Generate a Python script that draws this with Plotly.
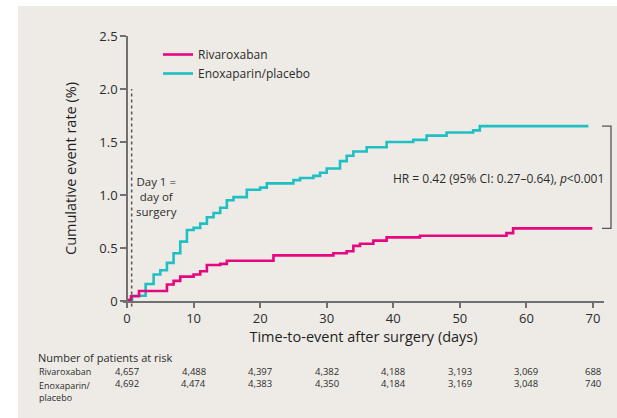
import plotly.graph_objects as go

# ---------------- data ----------------
riva_name = "Rivaroxaban"
enox_name = "Enoxaparin/placebo"

riva_days = [0, 0.6, 1.8, 6, 7, 8, 10, 11, 12, 14, 15, 22, 31, 33, 34, 35, 37, 39, 44, 57, 58, 69.9]
riva_vals = [0.01, 0.045, 0.095, 0.155, 0.19, 0.23, 0.25, 0.28, 0.34, 0.35, 0.38, 0.43, 0.45, 0.47,
             0.52, 0.54, 0.57, 0.60, 0.615, 0.64, 0.685, 0.685]

enox_days = [0, 0.75, 2.8, 4, 5, 6, 7, 8, 9, 10, 11, 12, 13, 14, 15, 16, 18, 20, 21, 25, 26, 28, 29,
             30, 32, 33, 34, 36, 39, 43, 45, 48, 52, 53, 69.3]
enox_vals = [0.01, 0.05, 0.16, 0.25, 0.29, 0.36, 0.45, 0.56, 0.67, 0.69, 0.73, 0.79, 0.83, 0.88, 0.95,
             0.98, 1.05, 1.07, 1.11, 1.14, 1.16, 1.18, 1.21, 1.25, 1.32, 1.37, 1.41, 1.45, 1.50, 1.52,
             1.56, 1.59, 1.61, 1.65, 1.65]

x_ticks = [0, 10, 20, 30, 40, 50, 60, 70]
y_ticks = [0, 0.5, 1.0, 1.5, 2.0, 2.5]
y_ticktext = ["0", "0.5", "1.0", "1.5", "2.0", "2.5"]

surgery_day = 0.7
surgery_line_top = 2.0
surgery_text = "Day 1 =<br>day of<br>surgery"

hr_text = "HR = 0.42 (95% CI: 0.27–0.64), <i>p</i><0.001"

risk_title = "Number of patients at risk"
risk_row_labels = ["Rivaroxaban", "Enoxaparin/<br>placebo"]
risk_days = [0, 10, 20, 30, 40, 50, 60, 70]
riva_risk = ["4,657", "4,488", "4,397", "4,382", "4,188", "3,193", "3,069", "688"]
enox_risk = ["4,692", "4,474", "4,383", "4,350", "4,184", "3,169", "3,048", "740"]

# ---------------- styling ----------------
PINK = "#e6067f"
TEAL = "#1fbfc3"
AXIS = "#707070"
TXT = "#2b2b2b"
FONT = "Open Sans"

W, H = 617, 418
ML, MR, MT, MB = 123, 13, 36, 117
PW, PH = W - ML - MR, H - MT - MB
X_RANGE = [-0.6, 71.65]
Y_RANGE = [0, 2.5]


def px_to_paper_x(px):
    return (px - ML) / PW


def px_to_paper_y(py):
    return (H - MB - py) / PH


fig = go.Figure()
fig.add_trace(go.Scatter(x=enox_days, y=enox_vals, mode="lines", name=enox_name,
                         line=dict(color=TEAL, width=2.6, shape="hv"), legendrank=2))
fig.add_trace(go.Scatter(x=riva_days, y=riva_vals, mode="lines", name=riva_name,
                         line=dict(color=PINK, width=2.6, shape="hv"), legendrank=1))

shapes = []
# beige panel background
shapes.append(dict(type="rect", xref="paper", yref="paper", layer="below",
                   x0=px_to_paper_x(18), x1=px_to_paper_x(W + 2),
                   y0=px_to_paper_y(H + 2), y1=px_to_paper_y(6),
                   fillcolor="#eeebe6", line=dict(width=0)))
# day-of-surgery dotted line
shapes.append(dict(type="line", xref="x", yref="paper",
                   x0=surgery_day, x1=surgery_day,
                   y0=px_to_paper_y(306.5), y1=surgery_line_top / Y_RANGE[1],
                   line=dict(color="#555555", width=1.5, dash="dot")))
# HR bracket spanning the final values of both curves
top_v, bot_v = enox_vals[-1], riva_vals[-1]
bx0, bx1 = px_to_paper_x(602), px_to_paper_x(611)
shapes.append(dict(type="path", xref="paper", yref="y",
                   path=f"M {bx0},{top_v} L {bx1},{top_v} L {bx1},{bot_v} L {bx0},{bot_v}",
                   line=dict(color="#555555", width=1.3)))

annotations = []
annotations.append(dict(x=4.5, y=0.99, xref="x", yref="y", text=surgery_text, showarrow=False,
                        align="center", font=dict(family=FONT, size=11.5, color=TXT)))
annotations.append(dict(x=px_to_paper_x(606), y=1.152, xref="paper", yref="y", text=hr_text,
                        showarrow=False, xanchor="right", font=dict(family=FONT, size=12, color=TXT)))

# risk table
annotations.append(dict(x=px_to_paper_x(37), y=px_to_paper_y(357.5), xref="paper", yref="paper",
                        text=risk_title, showarrow=False, xanchor="left", yanchor="middle",
                        borderpad=0, font=dict(family=FONT, size=11, color=TXT)))
row_y = [371, 383.6]
annotations.append(dict(x=px_to_paper_x(38), y=px_to_paper_y(row_y[0]), xref="paper", yref="paper",
                        text=risk_row_labels[0], showarrow=False, xanchor="left", yanchor="middle",
                        borderpad=0, font=dict(family=FONT, size=9, color=TXT)))
annotations.append(dict(x=px_to_paper_x(38), y=px_to_paper_y(row_y[1] - 6), xref="paper",
                        yref="paper", text=risk_row_labels[1], showarrow=False, xanchor="left",
                        yanchor="top", align="left", borderpad=0,
                        font=dict(family=FONT, size=9, color=TXT)))
for d, a, b in zip(risk_days, riva_risk, enox_risk):
    for val, ry in ((a, row_y[0]), (b, row_y[1])):
        annotations.append(dict(x=d, y=px_to_paper_y(ry), xref="x", yref="paper", text=val,
                                showarrow=False, xanchor="center", yanchor="middle", borderpad=0,
                                font=dict(family=FONT, size=9.5, color=TXT)))

fig.update_layout(
    width=W, height=H,
    margin=dict(l=ML, r=MR, t=MT, b=MB, autoexpand=False),
    paper_bgcolor="white", plot_bgcolor="rgba(0,0,0,0)",
    font=dict(family=FONT, color=TXT),
    shapes=shapes, annotations=annotations,
    showlegend=True,
    legend=dict(x=px_to_paper_x(158), y=px_to_paper_y(40), xanchor="left", yanchor="top",
                bgcolor="rgba(0,0,0,0)", font=dict(family=FONT, size=12, color=TXT),
                tracegroupgap=0, itemwidth=30),
    xaxis=dict(range=X_RANGE, tickvals=x_ticks, showgrid=False, zeroline=False,
               showline=True, linecolor=AXIS, linewidth=1.5,
               ticks="outside", ticklen=5, tickwidth=1.5, tickcolor=AXIS,
               tickfont=dict(family=FONT, size=13, color=TXT),
               title=dict(text="Time-to-event after surgery (days)", standoff=5,
                          font=dict(family=FONT, size=14.5, color="#1e1e1e"))),
    yaxis=dict(range=Y_RANGE, tickvals=y_ticks, ticktext=y_ticktext, showgrid=False, zeroline=False,
               anchor="free", position=(0 - X_RANGE[0]) / (X_RANGE[1] - X_RANGE[0]),
               showline=True, linecolor=AXIS, linewidth=1.5,
               ticks="outside", ticklen=6, tickwidth=1.5, tickcolor=AXIS,
               tickfont=dict(family=FONT, size=13, color=TXT),
               title=dict(text="Cumulative event rate (%)", standoff=18,
                          font=dict(family=FONT, size=14.5, color="#1e1e1e"))),
)

# remove the browser's default 8px body margin so the figure sits at the page origin
fig.write_html("out.html", config={"displayModeBar": False},
               post_script="document.body.style.margin='0';")
